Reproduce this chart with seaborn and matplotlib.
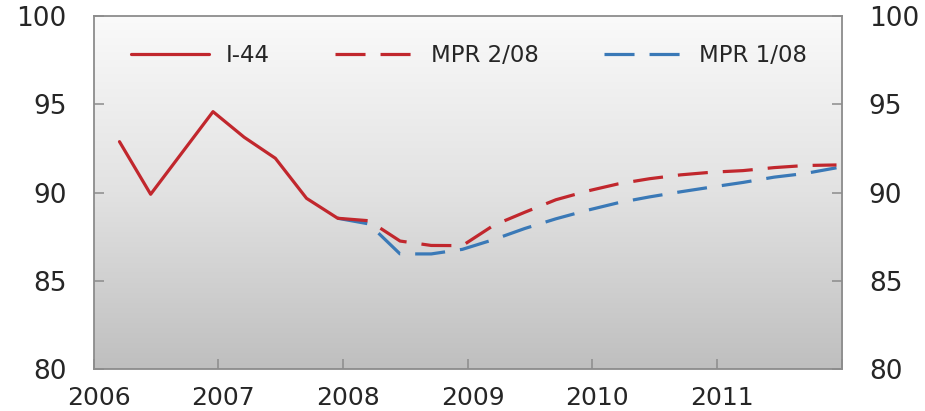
import numpy as np
import pandas as pd
import matplotlib
matplotlib.use("Agg")
import matplotlib.pyplot as plt
from matplotlib.lines import Line2D
from matplotlib.colors import LinearSegmentedColormap
from matplotlib.transforms import ScaledTranslation
import seaborn as sns

# ---- data -------------------------------------------------------------
hist_quarters = ["2006Q1", "2006Q2", "2006Q3", "2006Q4",
                 "2007Q1", "2007Q2", "2007Q3", "2007Q4"]
i44 = [92.88, 89.90, 92.24, 94.58, 93.13, 91.94, 89.67, 88.54]

proj_quarters = ["2007Q4",
                 "2008Q1", "2008Q2", "2008Q3", "2008Q4",
                 "2009Q1", "2009Q2", "2009Q3", "2009Q4",
                 "2010Q1", "2010Q2", "2010Q3", "2010Q4",
                 "2011Q1", "2011Q2", "2011Q3", "2011Q4"]
mpr_2_08 = [88.54, 88.40, 87.25, 87.00, 86.99, 88.14, 88.88, 89.59, 90.08,
            90.49, 90.78, 91.00, 91.15, 91.24, 91.41, 91.53, 91.56]
mpr_1_08 = [88.54, 88.22, 86.52, 86.52, 86.78, 87.33, 87.96, 88.51, 88.99,
            89.42, 89.75, 90.04, 90.31, 90.57, 90.87, 91.08, 91.40]

series_names = ["I-44", "MPR 2/08", "MPR 1/08"]
year_ticks = [2006, 2007, 2008, 2009, 2010, 2011]
y_ticks = [80, 85, 90, 95, 100]


def quarter_pos(q):
    """Place a quarter in the middle of its last month on a year axis."""
    year, n = int(q[:4]), int(q[-1])
    return year + (3 * n - 0.5) / 12


frames = []
for name, quarters, values in [("I-44", hist_quarters, i44),
                               ("MPR 2/08", proj_quarters, mpr_2_08),
                               ("MPR 1/08", proj_quarters, mpr_1_08)]:
    frames.append(pd.DataFrame({"x": [quarter_pos(q) for q in quarters],
                                "value": values, "series": name}))
df = pd.concat(frames, ignore_index=True)

# ---- style ------------------------------------------------------------
sns.set_theme(style="white")
plt.rcParams["font.family"] = ["DejaVu Sans"]

red = "#c1272d"
blue = "#3a79b7"
spine_grey = "#8c8c8c"
text_col = "#262626"
dash = (9.4, 4.7)
lw = 2.3

palette = {"I-44": red, "MPR 2/08": red, "MPR 1/08": blue}
dashes = {"I-44": "", "MPR 2/08": dash, "MPR 1/08": dash}

W, H = 925, 411
fig = plt.figure(figsize=(W / 100, H / 100), dpi=100)
left, right, top, bottom = 93.5, 841.7, 16, 369
ax = fig.add_axes([left / W, 1 - bottom / H, (right - left) / W, (bottom - top) / H])

# grey vertical gradient behind the plot
cmap = LinearSegmentedColormap.from_list("bg", ["#fafafa", "#e2e2e2", "#bfbfbf"])
ax.imshow(np.linspace(0, 1, 256).reshape(-1, 1), cmap=cmap, aspect="auto",
          extent=[0, 1, 0, 1], transform=ax.transAxes, zorder=0)

sns.lineplot(data=df, x="x", y="value", hue="series", style="series",
             hue_order=["MPR 1/08", "MPR 2/08", "I-44"],
             style_order=["MPR 1/08", "MPR 2/08", "I-44"],
             palette=palette, dashes=dashes, linewidth=lw,
             estimator=None, sort=False, legend=False, ax=ax, zorder=3)

ax.set_xlim(2006, 2012)
ax.set_ylim(80, 100)
ax.set_xticks(year_ticks + [2012])
ax.set_xticklabels([str(y) for y in year_ticks] + [""])
ax.set_yticks(y_ticks)
ax.set_yticklabels([str(v) for v in y_ticks])
ax.set_xlabel("")
ax.set_ylabel("")

for s in ax.spines.values():
    s.set_visible(True)
    s.set_color(spine_grey)
    s.set_linewidth(1.3)

ax.tick_params(axis="both", direction="in", length=7, width=1.1,
               color=spine_grey, labelcolor=text_col)
ax.tick_params(axis="y", left=True, right=True, labelleft=True,
               labelright=True, pad=19.5, labelsize=19)
ax.tick_params(axis="x", bottom=True, top=False, pad=12, labelsize=18)

shift = ScaledTranslation(5 / 100, 0, fig.dpi_scale_trans)
for lab in ax.get_xticklabels():
    lab.set_transform(lab.get_transform() + shift)

handles = [Line2D([], [], color=red, lw=lw),
           Line2D([], [], color=red, lw=lw, dashes=dash),
           Line2D([], [], color=blue, lw=lw, dashes=dash)]
leg = ax.legend(handles, series_names, loc="center left",
                bbox_to_anchor=((131 - left) / (right - left), (bottom - 56) / (bottom - top)),
                ncol=3, frameon=False, fontsize=16.5, handlelength=3.4,
                handletextpad=0.75, columnspacing=2.85, borderpad=0,
                borderaxespad=0)
for t in leg.get_texts():
    t.set_color(text_col)

fig.savefig("out.png", dpi=100)
